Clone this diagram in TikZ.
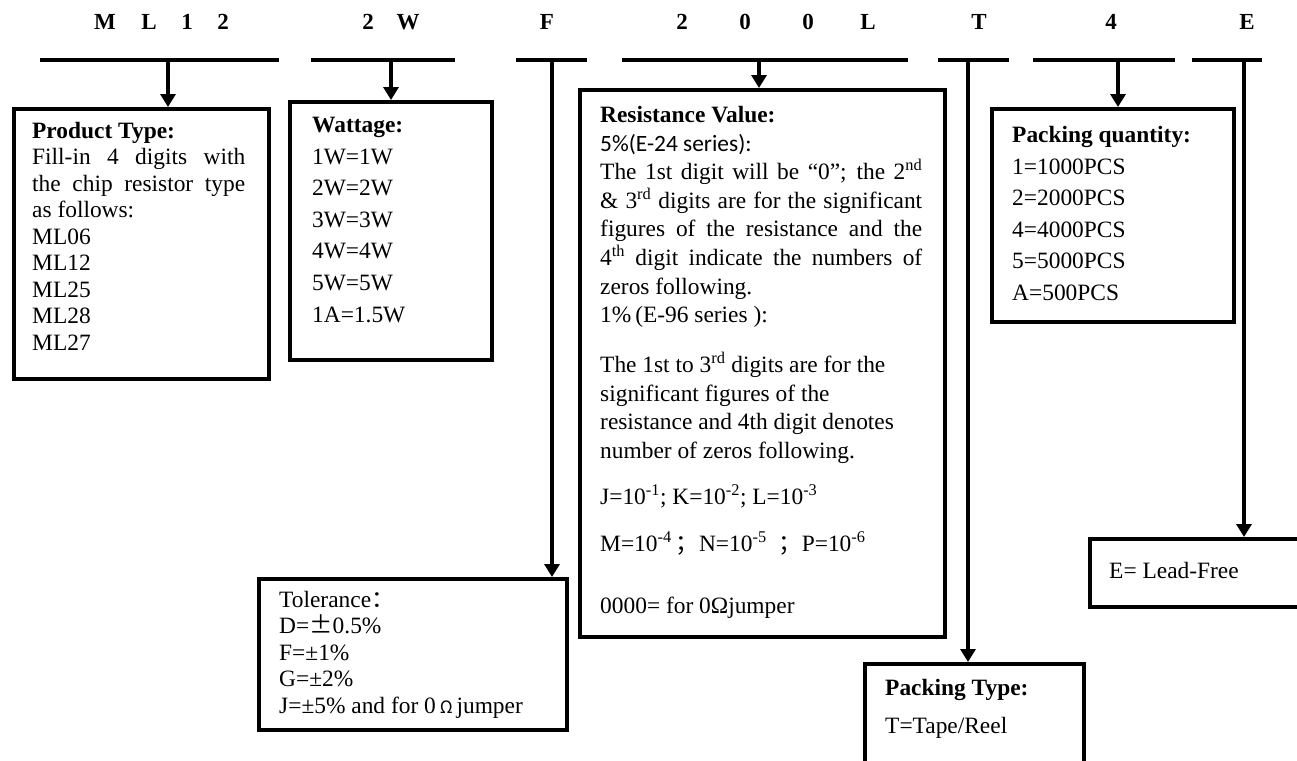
\documentclass[tikz,border=0pt]{standalone}
\usepackage{fontspec}
\setmainfont{Liberation Serif}
\newfontfamily\calibri{Carlito}
\newfontfamily\cjk{Noto Sans CJK SC}
\usetikzlibrary{arrows.meta, positioning}

\begin{document}
\begin{tikzpicture}[
  x=1pt, y=-1pt,
  code/.style={font=\fontsize{23}{23}\selectfont\bfseries, inner sep=0pt},
  bar/.style={line width=4.5pt},
  infobox/.style={
    rectangle, draw, line width=4pt,
    anchor=north west, inner sep=0pt
  },
  txt/.style={
    anchor=north west, inner sep=0pt, align=left,
    font=\fontsize{23.4}{#1}\selectfont
  },
  arr/.style={-{Triangle[width=15pt,length=13pt]}, line width=3.5pt}
]
  \useasboundingbox (0,0) rectangle (1297,760);
  \clip (0,0) rectangle (1297,760);

  % part number letters
  \foreach \x/\t [count=\i] in {105/M,149/L,187/1,223/2,368/2,408/W,547/F,
      682/2,745/0,808/0,868/L,979/T,1111/4,1247/E}
    \node[code] (c\i) at (\x,22) {\t};

  % bars under each group
  \foreach \a/\b in {40/279,311/455,516/587,622/908,938/1009,1033/1175,1192/1262}
    \draw[bar] (\a,60) -- (\b,60);

  \coordinate (t1) at (168,60);
  \coordinate (t2) at (391,60);
  \coordinate (t3) at (552,60);
  \coordinate (t4) at (759,60);
  \coordinate (t5) at (968,60);
  \coordinate (t6) at (1118,60);
  \coordinate (t7) at (1244,60);

  % boxes
  \node[infobox, minimum width=255pt, minimum height=270pt] (prod)  at (12,107) {};
  \node[infobox, minimum width=202pt, minimum height=258pt] (watt)  at (288,100) {};
  \node[infobox, minimum width=308pt, minimum height=151pt] (tol)   at (257,577) {};
  \node[infobox, minimum width=365pt, minimum height=547pt] (res)   at (578,88) {};
  \node[infobox, minimum width=219pt, minimum height=130pt] (ptype) at (863,662) {};
  \node[infobox, minimum width=242pt, minimum height=213pt] (pqty)  at (990,107) {};
  \node[infobox, minimum width=240pt, minimum height=68pt]  (ebox)  at (1088,537) {};

  % box texts
  \node[txt=26.5] (prodtxt) at (32,122) {\textbf{Product Type:}\\
    \makebox[213pt][s]{Fill-in 4 digits with}\\
    \makebox[213pt][s]{the chip resistor type}\\
    as follows:\\ ML06\\ ML12\\ ML25\\ ML28\\ ML27};

  \node[txt=31.6] (watttxt) at (312,117) {\textbf{Wattage:}\\
    1W=1W\\ 2W=2W\\ 3W=3W\\ 4W=4W\\ 5W=5W\\ 1A=1.5W};

  \node[txt=28.6] (restxt) at (600,106) {\textbf{Resistance Value:}\\
    {\calibri 5\%(E-24 series):}\\
    \makebox[322pt][s]{The 1st digit will be ``0''; the 2\textsuperscript{nd}}\\
    \makebox[322pt][s]{\& 3\textsuperscript{rd} digits are for the significant}\\
    \makebox[322pt][s]{figures of the resistance and the}\\
    \makebox[322pt][s]{4\textsuperscript{th} digit indicate the numbers of}\\
    zeros following.\\
    1\%\,(E-96 series ):\\[21.4pt]
    The 1st to 3\textsuperscript{rd} digits are for the\\
    significant figures of the\\
    resistance and 4th digit denotes\\
    number of zeros following.\\[17.4pt]
    J=10\textsuperscript{-1}; K=10\textsuperscript{-2}; L=10\textsuperscript{-3}\\[18.4pt]
    M=10\textsuperscript{-4}\,{\cjk ；}N=10\textsuperscript{-5}\ \ {\cjk ；}P=10\textsuperscript{-6}\\[33.4pt]
    0000= for 0Ωjumper};

  \node[txt=26.5] (toltxt) at (279,591) {Tolerance{\cjk ：}\\
    D={\cjk ±}0.5\%\\ F=±1\%\\ G=±2\%\\
    J=±5\% and for 0\,{\cjk\fontsize{17}{17}\selectfont Ω}\,jumper};

  \node[txt=31.6] (pqtytxt) at (1012,126) {\textbf{Packing quantity:}\\
    1=1000PCS\\ 2=2000PCS\\ 4=4000PCS\\ 5=5000PCS\\ A=500PCS};

  \node[txt=38] (ptypetxt) at (885,679) {\textbf{Packing Type:}\\ T=Tape/Reel};

  \node[txt=23] (etxt) at (1109,562) {E= Lead-Free};

  % connectors
  \draw[arr] (t1) -- (t1 |- prod.north);
  \draw[arr] (t2) -- (t2 |- watt.north);
  \draw[arr] (t3) -- (t3 |- tol.north);
  \draw[arr] (t4) -- (t4 |- res.north);
  \draw[arr] (t5) -- (t5 |- ptype.north);
  \draw[arr] (t6) -- (t6 |- pqty.north);
  \draw[arr] (t7) -- (t7 |- ebox.north);
\end{tikzpicture}
\end{document}
